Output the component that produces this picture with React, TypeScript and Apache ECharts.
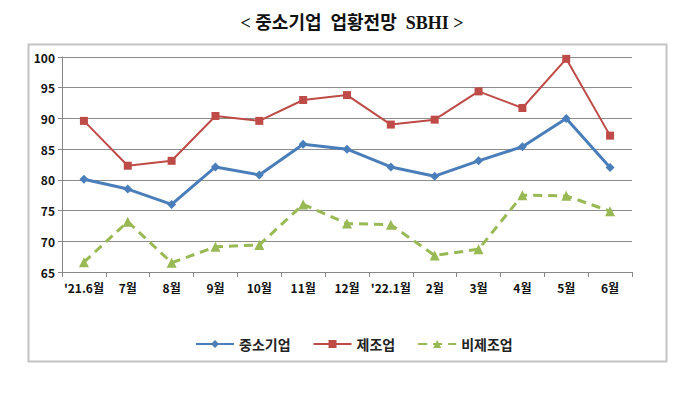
import React, { useEffect, useRef } from "react";
import * as echarts from "echarts";

const categories = ["'21.6월", "7월", "8월", "9월", "10월", "11월", "12월", "'22.1월", "2월", "3월", "4월", "5월", "6월"];
const smeValues = [80.1, 78.5, 76.0, 82.1, 80.8, 85.8, 85.0, 82.1, 80.6, 83.1, 85.4, 90.0, 82.0];
const mfgValues = [89.6, 82.3, 83.1, 90.4, 89.6, 93.0, 93.8, 89.0, 89.8, 94.4, 91.7, 99.7, 87.2];
const nonMfgValues = [66.6, 73.2, 66.5, 69.1, 69.4, 76.0, 72.9, 72.7, 67.7, 68.7, 77.5, 77.4, 74.9];
const seriesNames = ["중소기업", "제조업", "비제조업"];
const titleText = "< 중소기업  업황전망  SBHI >";

const FONT = "'Noto Sans CJK KR', 'Noto Sans', sans-serif";

export default function App() {
  const ref = useRef<HTMLDivElement>(null);
  useEffect(() => {
    if (!ref.current) return;
    const chart = echarts.init(ref.current, null, { renderer: "svg" });
    chart.setOption({
      animation: false,
      backgroundColor: "#ffffff",
      title: {
        text: titleText,
        left: 347,
        textAlign: "center",
        top: 9,
        textStyle: { fontFamily: "'Liberation Serif', 'Noto Sans CJK KR', serif", fontSize: 18, fontWeight: "bold", color: "#111" },
      },
      graphic: [
        {
          type: "rect",
          shape: { x: 28.5, y: 44.5, width: 638, height: 317 },
          style: { fill: "none", stroke: "#c4c4c4", lineWidth: 2 },
          silent: true,
          z: -1,
        },
      ],
      legend: {
        data: seriesNames,
        top: 332,
        left: 190,
        itemWidth: 38,
        itemHeight: 10,
        itemGap: 22,
        textStyle: { fontFamily: FONT, fontSize: 14, fontWeight: "bold", color: "#222" },
      },
      grid: { left: 62, right: 48, top: 57, bottom: 125, containLabel: false },
      xAxis: {
        type: "category",
        data: categories,
        boundaryGap: true,
        axisLine: { lineStyle: { color: "#888", width: 1 } },
        axisTick: { show: true, alignWithLabel: false, length: 5, lineStyle: { color: "#888" } },
        axisLabel: { interval: 0, fontFamily: FONT, fontSize: 12, fontWeight: "bold", color: "#111", margin: 9 },
      },
      yAxis: {
        type: "value",
        min: 65,
        max: 100,
        interval: 5,
        axisLine: { show: true, lineStyle: { color: "#888", width: 1 } },
        axisTick: { show: true, length: 4, lineStyle: { color: "#888" } },
        axisLabel: { fontFamily: FONT, fontSize: 12, fontWeight: "bold", color: "#111", margin: 7 },
        splitLine: { lineStyle: { color: "#8c8c8c", width: 1 } },
      },
      series: [
        {
          name: seriesNames[0],
          type: "line",
          data: smeValues,
          symbol: "diamond",
          symbolSize: 9,
          itemStyle: { color: "#4A7EBB" },
          lineStyle: { color: "#4A7EBB", width: 3 },
          z: 3,
        },
        {
          name: seriesNames[1],
          type: "line",
          data: mfgValues,
          symbol: "rect",
          symbolSize: 8,
          itemStyle: { color: "#BE4B48" },
          lineStyle: { color: "#BE4B48", width: 2 },
          z: 2,
        },
        {
          name: seriesNames[2],
          type: "line",
          data: nonMfgValues,
          symbol: "triangle",
          symbolSize: 10,
          itemStyle: { color: "#98B954" },
          lineStyle: { color: "#98B954", width: 3, type: [9, 6] },
          z: 2,
        },
      ],
    });
    return () => chart.dispose();
  }, []);
  return <div ref={ref} style={{ width: 680, height: 397, position: "absolute", left: 0, top: 0 }} />;
}
